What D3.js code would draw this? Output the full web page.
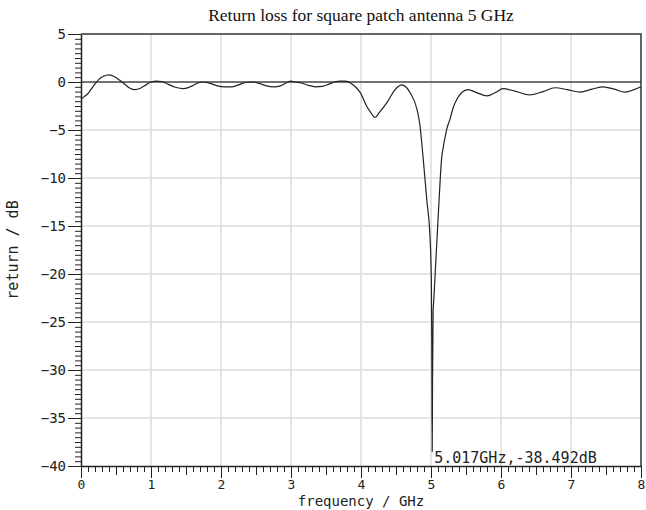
<!DOCTYPE html>
<html>
<head>
<meta charset="utf-8">
<script src="https://cdn.jsdelivr.net/npm/d3@7"></script>
<style>
  body { margin: 0; background: #fff; }
  svg { display: block; }
  .tick text { font-family: "DejaVu Sans Mono", monospace; font-size: 14px; fill: #222; }
</style>
</head>
<body>
<div class="div_d3"></div>
<script>
// data
const freqGHz = [0, 0.05, 0.1, 0.15, 0.2, 0.26, 0.32, 0.4, 0.48, 0.55, 0.62, 0.7, 0.77, 0.85, 0.93,
  1.0, 1.08, 1.15, 1.25, 1.35, 1.46, 1.56, 1.67, 1.75, 1.85, 1.95, 2.05, 2.15, 2.25, 2.35,
  2.45, 2.55, 2.65, 2.75, 2.85, 2.93, 3.0, 3.05, 3.15, 3.25, 3.35, 3.45, 3.55, 3.62, 3.7, 3.78,
  3.85, 3.92, 3.99, 4.08, 4.14, 4.2, 4.26, 4.37, 4.49, 4.58, 4.64, 4.7, 4.8, 4.84, 4.89, 4.94,
  4.985, 5.005, 5.012, 5.017, 5.022, 5.03, 5.04, 5.06, 5.1, 5.125, 5.15, 5.175, 5.2, 5.225, 5.27, 5.32, 5.37, 5.44,
  5.53, 5.65, 5.8, 5.92, 6.03, 6.2, 6.41, 6.6, 6.77, 6.95, 7.13, 7.3, 7.46, 7.62, 7.77, 7.9, 8.0];
const returnDb = [-1.8, -1.5, -1.2, -0.7, -0.2, 0.3, 0.6, 0.75, 0.55, 0.2, -0.2, -0.65, -0.8, -0.65, -0.3,
  0, 0.1, 0.05, -0.25, -0.55, -0.7, -0.5, -0.1, 0, -0.15, -0.4, -0.5, -0.5, -0.3, -0.05,
  0, -0.15, -0.4, -0.5, -0.4, -0.1, 0.1, 0, -0.1, -0.35, -0.5, -0.45, -0.2, 0, 0.1, 0.1,
  -0.1, -0.5, -1.1, -2.5, -3.2, -3.7, -3.2, -2.15, -0.76, -0.3, -0.5, -1.1, -2.85, -4.4, -8.1, -12.3,
  -16.1, -20.6, -28, -38.492, -31, -24, -22.7, -19.9, -14.4, -11.0, -8.1, -6.8, -5.8, -4.9, -3.9, -2.6, -1.8, -1.1,
  -0.8, -1.1, -1.45, -1.1, -0.7, -0.95, -1.35, -1.0, -0.6, -0.8, -1.05, -0.75, -0.5, -0.75, -1.05, -0.8, -0.5];

const xTicks = [0, 1, 2, 3, 4, 5, 6, 7, 8];
const yTicks = [-40, -35, -30, -25, -20, -15, -10, -5, 0, 5];
const marker = {f: 5.017, db: -38.492};

const W = 646, H = 510;
const margin = {top: 34, right: 5, bottom: 44, left: 81},
      width = W - margin.left - margin.right,
      height = H - margin.top - margin.bottom;

const root = d3.select(".div_d3")
  .append("svg")
    .attr("width", W)
    .attr("height", H);

const svg = root.append("g")
    .attr("transform", `translate(${margin.left},${margin.top})`);

const x = d3.scaleLinear().domain([0, 8]).range([0, width]);
const y = d3.scaleLinear().domain([-40, 5]).range([height, 0]);

// grid
svg.append("g")
  .selectAll("line")
  .data(xTicks.slice(1, -1))
  .join("line")
    .attr("x1", d => x(d)).attr("x2", d => x(d))
    .attr("y1", 0).attr("y2", height)
    .attr("stroke", "#dcdcdc").attr("stroke-width", 1.5);

svg.append("g")
  .selectAll("line")
  .data(yTicks.filter(d => d != 0 && d != -40 && d != 5))
  .join("line")
    .attr("x1", 0).attr("x2", width)
    .attr("y1", d => y(d)).attr("y2", d => y(d))
    .attr("stroke", "#dcdcdc").attr("stroke-width", 1.5);

// zero line
svg.append("line")
  .attr("x1", 0).attr("x2", width)
  .attr("y1", y(0)).attr("y2", y(0))
  .attr("stroke", "#444").attr("stroke-width", 1.5);

// minor ticks
const xMinor = d3.range(0, 80).map(i => i / 10).filter(d => Math.round(d * 10) % 10 != 0);
svg.append("g")
  .attr("transform", `translate(0,${height})`)
  .call(d3.axisBottom(x).tickValues(xMinor).tickSizeOuter(0)
    .tickSize(d => 0).tickFormat(""))
  .call(g => g.select(".domain").remove())
  .call(g => g.selectAll(".tick line")
    .attr("y2", d => Math.round(d * 10) % 5 == 0 ? 9 : 6)
    .attr("stroke", "#222"));

const yMinor = d3.range(-80, 10).map(i => i / 2).filter(d => d % 5 != 0);
svg.append("g")
  .call(d3.axisLeft(y).tickValues(yMinor).tickSize(6).tickSizeOuter(0).tickFormat(""))
  .call(g => g.select(".domain").remove())
  .call(g => g.selectAll(".tick line").attr("stroke", "#222"));

// major axes
svg.append("g")
  .attr("transform", `translate(0,${height})`)
  .call(d3.axisBottom(x).tickValues(xTicks).tickSize(12).tickSizeOuter(0).tickPadding(2).tickFormat(d3.format("d")))
  .call(g => g.select(".domain").attr("stroke", "#222").attr("stroke-width", 1.5))
  .call(g => g.selectAll(".tick line").attr("stroke", "#222"))
  .call(g => g.selectAll(".tick text").style("font-size", "13px"));

svg.append("g")
  .call(d3.axisLeft(y).tickValues(yTicks).tickSize(13).tickSizeOuter(0).tickPadding(2)
    .tickFormat(d => d < 0 ? "\u2212" + Math.abs(d) : d))
  .call(g => g.select(".domain").attr("stroke", "#222").attr("stroke-width", 1.5))
  .call(g => g.selectAll(".tick line").attr("stroke", "#222"));

// top and right border
svg.append("path")
  .attr("d", `M0,0H${width}V${height}`)
  .attr("fill", "none")
  .attr("stroke", "#333").attr("stroke-width", 1.5);

// curve
const points = freqGHz.map((f, i) => [f, returnDb[i]]);
svg.append("path")
  .datum(points)
  .attr("fill", "none")
  .attr("stroke", "#222")
  .attr("stroke-width", 1.2)
  .attr("d", d3.line()
    .x(d => x(d[0]))
    .y(d => y(d[1]))
    .curve(d3.curveMonotoneX));

// marker label
svg.append("text")
  .attr("x", x(marker.f) + 2)
  .attr("y", y(-40) - 3)
  .style("font-family", "DejaVu Sans Mono, monospace")
  .style("font-size", "15px")
  .attr("fill", "#222")
  .text(`${marker.f.toFixed(3)}GHz,${marker.db.toFixed(3)}dB`);

// title and axis labels
root.append("text")
  .attr("x", 361)
  .attr("y", 21)
  .attr("text-anchor", "middle")
  .style("font-family", "Liberation Serif, serif")
  .style("font-size", "17.5px")
  .attr("fill", "#111")
  .text("Return loss for square patch antenna 5 GHz");

root.append("text")
  .attr("x", margin.left + x(4))
  .attr("y", 506)
  .attr("text-anchor", "middle")
  .style("font-family", "DejaVu Sans Mono, monospace")
  .style("font-size", "14px")
  .attr("fill", "#222")
  .text("frequency / GHz");

root.append("text")
  .attr("transform", `translate(18,${margin.top + y(-17.5)}) rotate(-90)`)
  .attr("text-anchor", "middle")
  .style("font-family", "DejaVu Sans Mono, monospace")
  .style("font-size", "15px")
  .attr("fill", "#222")
  .text("return / dB");
</script>
</body>
</html>
